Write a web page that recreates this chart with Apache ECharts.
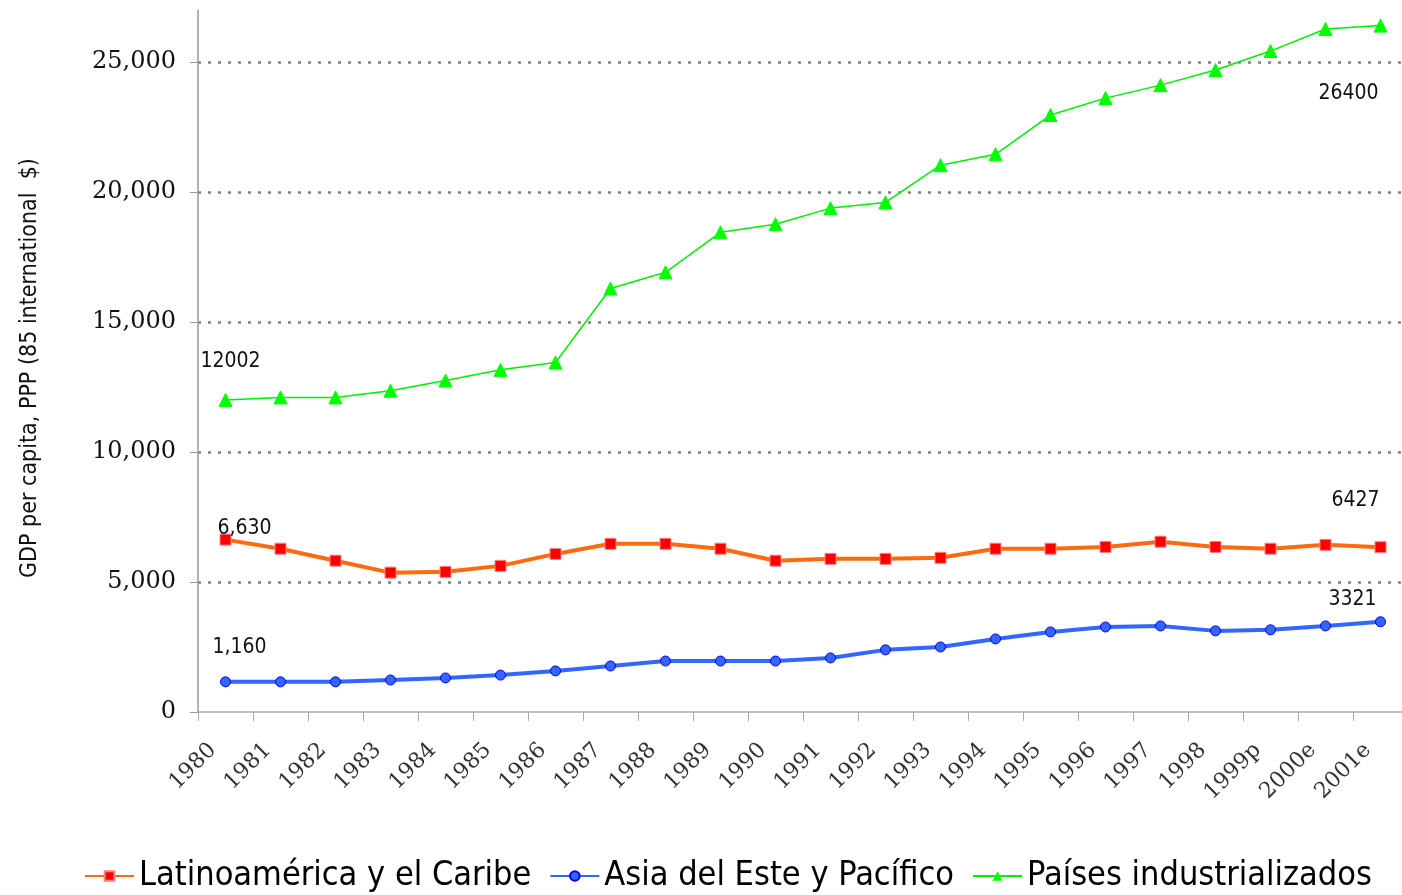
<!DOCTYPE html>
<html><head><meta charset="utf-8">
<script src="https://cdn.jsdelivr.net/npm/echarts@6/dist/echarts.min.js"></script>
<style>html,body{margin:0;padding:0;background:#fff;overflow:hidden}#c{width:1412px;height:895px}</style>
</head><body><div id="c"></div>
<script>
var categories = ['1980','1981','1982','1983','1984','1985','1986','1987','1988','1989','1990','1991','1992','1993','1994','1995','1996','1997','1998','1999p','2000e','2001e'];
var latam = [6630,6280,5820,5360,5390,5620,6080,6470,6470,6280,5820,5890,5890,5930,6280,6280,6350,6550,6350,6280,6430,6340];
var asia = [1160,1160,1160,1230,1310,1420,1580,1770,1960,1960,1960,2080,2390,2500,2810,3080,3270,3310,3120,3160,3310,3470];
var industrial = [12002,12100,12100,12360,12750,13160,13440,16290,16910,18450,18760,19380,19600,21030,21450,22960,23610,24110,24690,25420,26270,26400];
var seriesNames = ['Latinoamérica y el Caribe','Asia del Este y Pacífico','Países industrializados'];
var yAxisName = 'GDP per capita, PPP (85 international  $)';
var yTicks = [0,5000,10000,15000,20000,25000];
// point annotations: series index, category index, text
var notes = [
  [2, 0, '12002'], [0, 0, '6,630'], [1, 0, '1,160'],
  [2, 21, '26400'], [0, 21, '6427'], [1, 21, '3321']
];
var noteOffsets = {'2_0':[5,-38],'0_0':[19,-11],'1_0':[14,-34],'2_21':[-32,68],'0_21':[-25,-47],'1_21':[-28,-22]};
var narrow = "'DejaVu Sans Condensed', 'Liberation Sans', sans-serif";

function build(si, arr) {
  return arr.map(function (v, i) {
    var n = notes.filter(function (x) { return x[0] === si && x[1] === i; })[0];
    if (!n) return v;
    return { value: v, label: { show: true, position: 'inside', formatter: n[2], offset: noteOffsets[si + '_' + i],
      fontFamily: narrow, fontSize: 21, color: '#111' } };
  });
}

var chart = echarts.init(document.getElementById('c'));
var gridC = '#808080';
chart.setOption({
  animation: false,
  grid: { left: 198, top: 10, right: 4, bottom: 183, containLabel: false },
  legend: {
    bottom: -3, left: 79, itemWidth: 49, itemHeight: 12, itemGap: 18,
    textStyle: { fontFamily: narrow, fontSize: 34, color: '#000' },
    data: seriesNames
  },
  xAxis: {
    type: 'category', data: categories, boundaryGap: true,
    axisLine: { lineStyle: { color: '#aaa', width: 1.5 } },
    axisTick: { show: true, length: 9, lineStyle: { color: '#aaa' } },
    axisLabel: { rotate: 45, margin: 22, padding: [0, 18, 0, 0], fontFamily: 'DejaVu Serif', fontSize: 22, color: '#333', interval: 0 }
  },
  yAxis: {
    type: 'value', min: 0, max: 27000, interval: 5000,
    name: yAxisName, nameLocation: 'middle', nameRotate: 90, nameGap: 156,
    nameTextStyle: { fontFamily: narrow, fontSize: 23, color: '#111', padding: [0, 14, 0, 0] },
    axisLine: { show: true, lineStyle: { color: '#999', width: 1.5 } },
    axisTick: { show: true, length: 8, inside: false, lineStyle: { color: '#999' }, customValues: yTicks },
    axisLabel: { margin: 22, fontFamily: 'DejaVu Serif', fontSize: 24, color: '#111', customValues: yTicks,
      formatter: function (v) { return v.toLocaleString('en-US'); } },
    splitLine: { show: true, lineStyle: { type: [3, 7], width: 2.5,
      color: ['rgba(0,0,0,0)', gridC, gridC, gridC, gridC, gridC, 'rgba(0,0,0,0)'] } }
  },
  series: [
    { name: seriesNames[0], type: 'line', data: build(0, latam), symbol: 'rect', symbolSize: 11,
      lineStyle: { color: '#FF6A0F', width: 4 }, itemStyle: { color: '#FF0000', borderColor: '#FF8080', borderWidth: 1 }, z: 3 },
    { name: seriesNames[1], type: 'line', data: build(1, asia), symbol: 'circle', symbolSize: 10,
      lineStyle: { color: '#3366FF', width: 4 }, itemStyle: { color: '#3366FF', borderColor: '#0000EE', borderWidth: 1 }, z: 3 },
    { name: seriesNames[2], type: 'line', data: build(2, industrial), symbol: 'triangle', symbolSize: 13,
      lineStyle: { color: '#00EE00', width: 1.5 }, itemStyle: { color: '#00FF00', borderColor: '#00FF00' }, z: 3 }
  ]
});
</script>
</body></html>
